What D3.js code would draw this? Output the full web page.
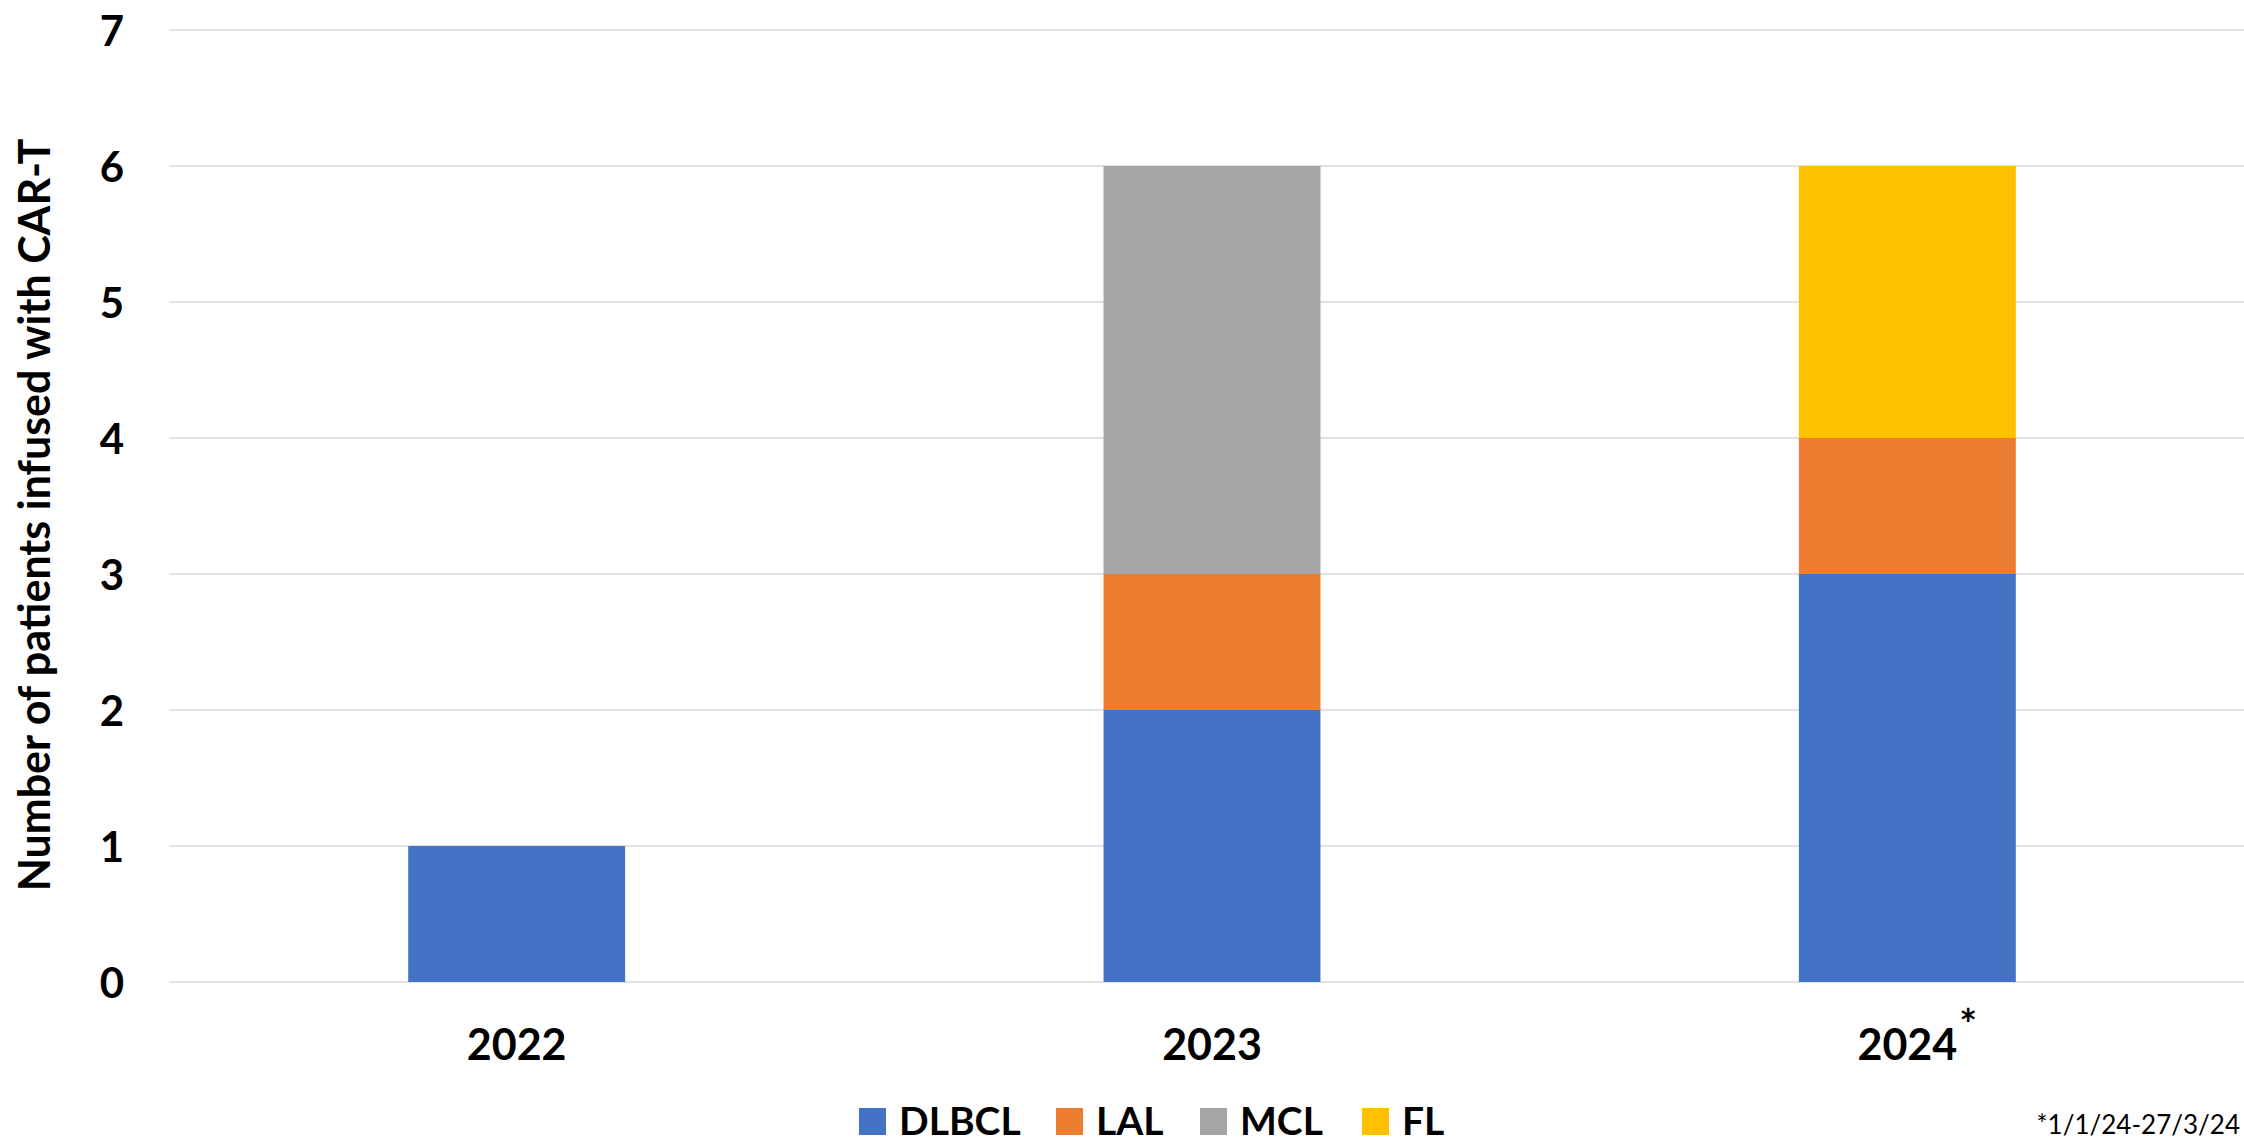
<!DOCTYPE html>
<html>
<head>
<meta charset="utf-8">
<title>CAR-T infusions</title>
<script src="https://cdn.jsdelivr.net/npm/d3@7"></script>
<style>
  html, body { margin: 0; padding: 0; background: #fff; overflow: hidden; }
  svg { display: block; font-family: Lato, "Open Sans", sans-serif; }
  .grid line { stroke: #d9d9d9; stroke-width: 1.5; }
  .tick-label { font-weight: 700; fill: #000; }
</style>
</head>
<body>
<svg id="chart" width="2244" height="1144"></svg>
<script>
// data
const years = ["2022", "2023", "2024"];
const seriesNames = ["DLBCL", "LAL", "MCL", "FL"];
const dlbcl = [1, 2, 3];
const lal = [0, 1, 1];
const mcl = [0, 3, 0];
const fl = [0, 0, 2];
const colors = ["#4472C4", "#ED7D31", "#A5A5A5", "#FFC000"];
const yTicks = [0, 1, 2, 3, 4, 5, 6, 7];
const yTitle = "Number of patients infused with CAR-T";
const footnote = "*1/1/24-27/3/24";

// build table for stacking
const table = years.map((yr, i) => ({
  year: yr, DLBCL: dlbcl[i], LAL: lal[i], MCL: mcl[i], FL: fl[i]
}));

const svg = d3.select("#chart");
const plotLeft = 169, plotRight = 2255, plotTop = 30, plotBottom = 982;

const x = d3.scaleBand()
  .domain(years)
  .range([plotLeft, plotRight])
  .paddingInner(0.688)
  .paddingOuter(0.344);

const y = d3.scaleLinear().domain([0, 7]).range([plotBottom, plotTop]);

const color = d3.scaleOrdinal().domain(seriesNames).range(colors);

// gridlines
svg.append("g").attr("class", "grid")
  .selectAll("line")
  .data(yTicks)
  .join("line")
  .attr("x1", plotLeft).attr("x2", 2244)
  .attr("y1", d => y(d)).attr("y2", d => y(d));

// stacked bars
const stacked = d3.stack().keys(seriesNames)(table);
svg.append("g")
  .selectAll("g")
  .data(stacked)
  .join("g")
  .attr("fill", d => color(d.key))
  .selectAll("rect")
  .data(d => d.filter(s => s[1] - s[0] > 0))
  .join("rect")
  .attr("x", d => x(d.data.year))
  .attr("width", x.bandwidth())
  .attr("y", d => y(d[1]))
  .attr("height", d => y(d[0]) - y(d[1]));

// y axis labels
const yAxis = d3.axisLeft(y).tickValues(yTicks).tickFormat(d3.format("d"))
  .tickSize(0).tickPadding(0);
const gy = svg.append("g").attr("transform", "translate(124,0)").call(yAxis);
gy.select(".domain").remove();
gy.selectAll("text")
  .attr("class", "tick-label")
  .style("font-size", "42px")
  .style("font-family", "Lato, 'Open Sans', sans-serif")
  .attr("dy", "0.36em");

// x axis labels
const xAxis = d3.axisBottom(x).tickSize(0).tickPadding(0);
const gx = svg.append("g").attr("transform", "translate(0,1060)").call(xAxis);
gx.select(".domain").remove();
gx.selectAll("text")
  .attr("class", "tick-label")
  .style("font-size", "43px")
  .style("font-family", "Lato, 'Open Sans', sans-serif")
  .attr("dy", 0);

// superscript asterisk on 2024
const lastLabel = gx.selectAll(".tick").filter(d => d === "2024").select("text");
const lw = lastLabel.node().getComputedTextLength();
svg.append("text")
  .attr("x", x("2024") + x.bandwidth() / 2 + lw / 2 + 2)
  .attr("y", 1040)
  .attr("font-size", 42)
  .attr("font-weight", 700)
  .text("*");

// y axis title
svg.append("text")
  .attr("transform", "translate(50,515) rotate(-90)")
  .attr("text-anchor", "middle")
  .attr("font-size", 43)
  .attr("font-weight", 700)
  .text(yTitle);

// legend
const legendX = [859, 1056, 1200, 1362];
const leg = svg.append("g").selectAll("g")
  .data(seriesNames)
  .join("g")
  .attr("transform", (d, i) => `translate(${legendX[i]},1108)`);
leg.append("rect")
  .attr("width", 27).attr("height", 27)
  .attr("fill", d => color(d));
leg.append("text")
  .attr("x", 40).attr("y", 27)
  .attr("font-size", 39)
  .attr("font-weight", 700)
  .text(d => d);

// footnote (kept inside the frame)
svg.append("text")
  .attr("x", 2240).attr("y", 1134)
  .attr("text-anchor", "end")
  .attr("font-size", 26)
  .text(footnote);
</script>
</body>
</html>
